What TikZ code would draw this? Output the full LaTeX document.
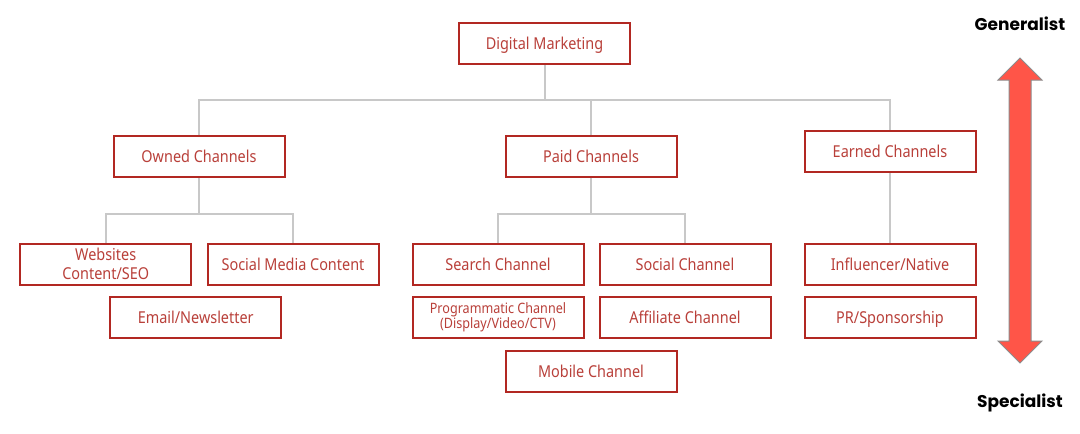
\documentclass[tikz,border=0pt]{standalone}
\usepackage{fontspec}
\setmainfont{Noto Sans}
\newfontfamily\boxfont[FakeStretch=0.88]{Noto Sans}
\newfontfamily\sidefont{Poppins}
\definecolor{boxred}{RGB}{178,40,34}
\definecolor{txtred}{RGB}{185,64,58}
\definecolor{connline}{RGB}{200,200,200}
\definecolor{arrowred}{RGB}{255,85,72}
\definecolor{arrowedge}{RGB}{140,140,140}
\begin{document}
\begin{tikzpicture}[x=1pt,y=-1pt,
  boxbase/.style={draw=boxred, line width=2pt, fill=white, minimum width=171pt, minimum height=41pt,
    inner sep=0pt, text=txtred, align=center, font=\boxfont\fontsize{16.4}{19}\selectfont},
  box/.style={boxbase, text height=13pt, text depth=0.6pt},
  twobox/.style={boxbase},
  smallbox/.style={boxbase, font=\boxfont\fontsize{14.3}{15.5}\selectfont},
  conn/.style={draw=connline, line width=2pt},
  side/.style={anchor=base, text=black, font=\sidefont\bfseries\fontsize{17}{20}\selectfont}]
\useasboundingbox (0,0) rectangle (1080,434);
% bus coordinates
\coordinate (bus1) at (0,100);
\coordinate (bus2) at (0,214);
% nodes
\node[box] (dm) at (544.5,43.5) {Digital Marketing};
\node[box] (owned) at (199,156.3) {Owned Channels};
\node[box] (paid) at (591,156.3) {Paid Channels};
\node[box] (earned) at (890,151.5) {Earned Channels};
\node[twobox] (web) at (105.7,264.2) {Websites\\Content/SEO};
\node[box] (smc) at (293,264.2) {Social Media Content};
\node[box] (search) at (498,264.2) {Search Channel};
\node[box] (social) at (685,264.2) {Social Channel};
\node[box] (infl) at (890,264.2) {Influencer/Native};
\node[box] (email) at (195.7,317.5) {Email/Newsletter};
\node[smallbox] (prog) at (498,317.5) {Programmatic Channel\\(Display/Video/CTV)};
\node[box] (affil) at (685,317.5) {Affiliate Channel};
\node[box] (pr) at (890,317.5) {PR/Sponsorship};
\node[box] (mobile) at (591,371) {Mobile Channel};
% connectors
\draw[conn] (dm.south) -- (dm.south |- bus1);
\draw[conn] (owned.north) -- (owned.north |- bus1) -- (earned.north |- bus1) -- (earned.north);
\draw[conn] (paid.north) -- (paid.north |- bus1);
\draw[conn] (owned.south) -- (owned.south |- bus2);
\draw[conn] (web.north) -- (web.north |- bus2) -- (smc.north |- bus2) -- (smc.north);
\draw[conn] (paid.south) -- (paid.south |- bus2);
\draw[conn] (search.north) -- (search.north |- bus2) -- (social.north |- bus2) -- (social.north);
\draw[conn] (earned.south) -- (infl.north);
% side labels
\node[side] (gen) at (1020,30.3) {Generalist};
\node[side] (spec) at (1020,407.4) {Specialist};
% double arrow
\draw[fill=arrowred, draw=arrowedge, line width=1pt, line join=miter]
  (1020,58) -- (1042,80) -- (1031,80) -- (1031,341) -- (1042,341) -- (1020,363)
  -- (998,341) -- (1009,341) -- (1009,80) -- (998,80) -- cycle;
\end{tikzpicture}
\end{document}
